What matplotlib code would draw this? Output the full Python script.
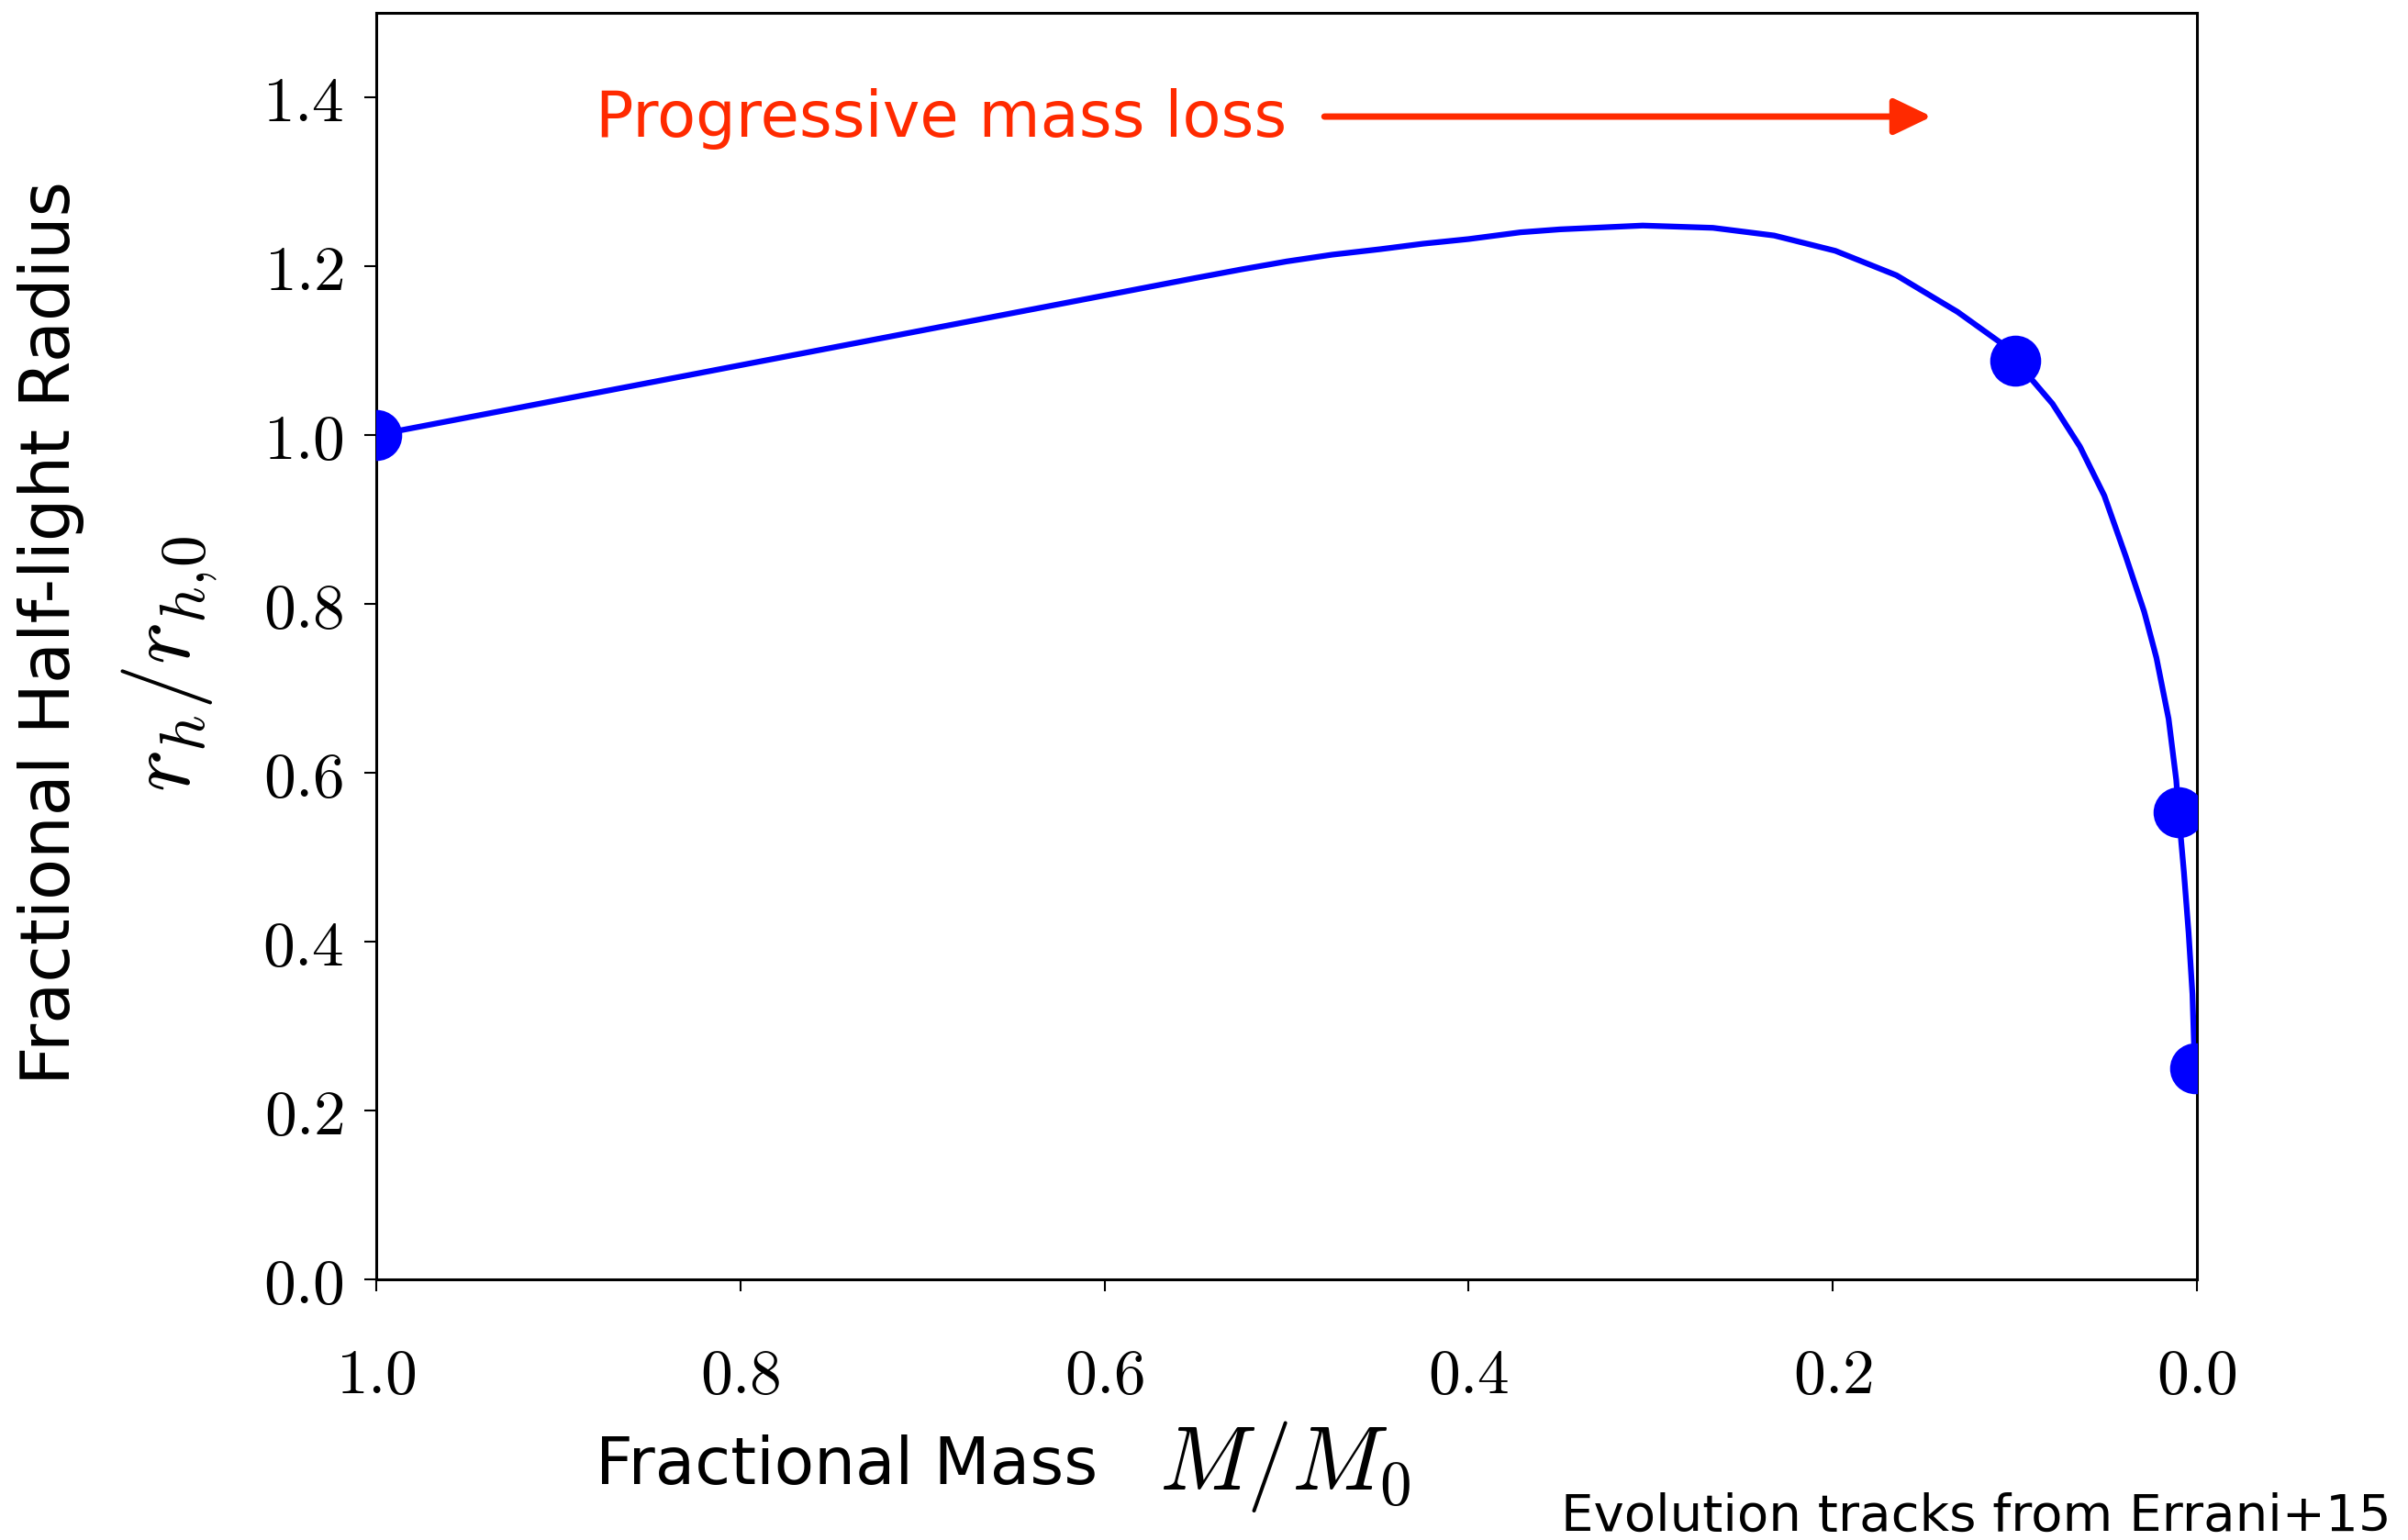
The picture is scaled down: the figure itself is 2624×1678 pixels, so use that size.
import matplotlib
matplotlib.use("Agg")
import matplotlib.pyplot as plt

plt.rcParams['mathtext.fontset'] = 'cm'
plt.rcParams['font.family'] = ['DejaVu Sans']

# Evolution track: fractional mass vs fractional half-light radius
track_mass = [1.0, 0.9, 0.8, 0.7, 0.6, 0.551, 0.525, 0.5, 0.475, 0.4486, 0.425, 0.40, 0.3715,
              0.3498, 0.3044, 0.2658, 0.2322, 0.1986, 0.165, 0.1314, 0.1079,
              0.0995, 0.0793, 0.0642, 0.0508, 0.039, 0.0289, 0.0222, 0.0155,
              0.0113, 0.0100, 0.0071, 0.0045, 0.0024, 0.0015, 0.001]
track_radius = [1.0, 1.0413, 1.0826, 1.1239, 1.1652, 1.1855, 1.196, 1.2055, 1.2135, 1.220,
                1.2265, 1.232, 1.240,
                1.2435, 1.248, 1.2453, 1.2362, 1.2181, 1.1891, 1.1457, 1.1094,
                1.088, 1.037, 0.9862, 0.928, 0.856, 0.7906, 0.7362, 0.6638,
                0.5913, 0.553, 0.4826, 0.410, 0.3377, 0.276, 0.25]

# Snapshots highlighted along the track
snap_mass = [1.0, 0.1, 0.01, 0.001]
snap_radius = [1.0, 1.088, 0.553, 0.25]

x_ticks = [1.0, 0.8, 0.6, 0.4, 0.2, 0.0]
x_ticklabels = ['$1.0$', '$0.8$', '$0.6$', '$0.4$', '$0.2$', '$0.0$']
y_ticks = [0.0, 0.2, 0.4, 0.6, 0.8, 1.0, 1.2, 1.4]
y_ticklabels = ['$0.0$', '$0.2$', '$0.4$', '$0.6$', '$0.8$', '$1.0$', '$1.2$', '$1.4$']

BLUE = '#0000FF'
RED = '#FF2A00'

fig = plt.figure(figsize=(26.24, 16.78), dpi=100)
ax = fig.add_axes([0.1563, 0.1693, 0.756, 0.8224])

ax.plot(track_mass, track_radius, color=BLUE, lw=4.5, solid_capstyle='round',
        solid_joinstyle='round', zorder=2)
ax.plot(snap_mass, snap_radius, 'o', color=BLUE, ms=40, mew=0, zorder=3)

ax.set_xlim(1.0, 0.0)
ax.set_ylim(0.0, 1.5)
ax.set_xticks(x_ticks)
ax.set_xticklabels(x_ticklabels)
ax.set_yticks(y_ticks)
ax.set_yticklabels(y_ticklabels)
ax.tick_params(axis='both', direction='out', length=9.5, width=1.5, labelsize=50)
ax.tick_params(axis='x', pad=42)
ax.tick_params(axis='y', pad=16)
for s in ax.spines.values():
    s.set_linewidth(2.2)

# Axis labels: descriptive text plus symbol
fig.text(0.021, 0.589, 'Fractional Half-light Radius', rotation=90,
         ha='center', va='center', fontsize=53)
fig.text(0.0702, 0.569, r'$r_h/r_{h,\!0}$', rotation=90,
         ha='center', va='center', fontsize=71)
fig.text(0.2474, 0.0477, 'Fractional Mass', ha='left', va='center', fontsize=51)
fig.text(0.4814, 0.0477, r'$M/M_0$', ha='left', va='center', fontsize=71)

# Direction of mass loss
fig.text(0.2473, 0.9231, 'Progressive mass loss', ha='left', va='center',
         fontsize=49.5, color=RED)
ax.annotate('', xy=(0.8022, 0.9243), xytext=(0.550, 0.9243),
            xycoords='figure fraction', textcoords='figure fraction',
            arrowprops=dict(arrowstyle='-|>,head_length=25,head_width=12',
                            mutation_scale=1, color=RED, lw=5,
                            shrinkA=0, shrinkB=0))

fig.text(0.993, 0.0149, 'Evolution tracks from Errani+15', ha='right',
         va='center', fontsize=40.5)

fig.savefig('out.png', dpi=100)
